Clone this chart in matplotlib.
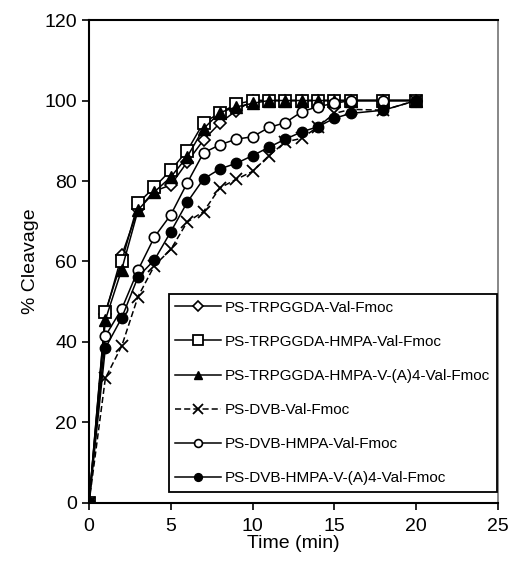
import numpy as np
import matplotlib
matplotlib.use('Agg')
import matplotlib.pyplot as plt

plt.rcParams['font.family'] = ['Liberation Sans', 'DejaVu Sans']

# Time points (min)
t = [0, 1, 2, 3, 4, 5, 6, 7, 8, 9, 10, 11, 12, 13, 14, 15, 16, 18, 20]

# % cleavage for each resin
trp_val      = [0, 47, 61.5, 73, 77.5, 79, 84.7, 90.2, 94.4, 97.5, 100, 100, 100, 100, 100, 100, 100, 100, 100]
trp_hmpa     = [0, 47.5, 60, 74.5, 78.5, 82.7, 87.5, 94.5, 96.9, 99.1, 100, 100, 100, 100, 100, 100, 100, 100, 100]
trp_hmpa_a4  = [0, 45.5, 58, 72.8, 77.3, 81, 86, 93, 97, 98.4, 99.3, 100, 100, 100, 100, 100, 100, 100, 100]
dvb_val      = [0, 31, 39, 51.3, 59, 63, 69.8, 72.4, 78.3, 80.4, 82.4, 86.3, 89.7, 90.6, 93.5, 96.8, 97.8, 97.6, 100]
dvb_hmpa     = [0, 41.5, 48.2, 57.9, 66.1, 71.6, 79.5, 87, 89, 90.4, 91, 93.3, 94.5, 97.2, 98.5, 99.3, 100, 100, 100]
dvb_hmpa_a4  = [0, 38.5, 46, 56.2, 60.4, 67.4, 74.7, 80.5, 83, 84.4, 86.3, 88.4, 90.4, 92.2, 93.5, 95.6, 96.8, 97.6, 100]

labels = ['PS-TRPGGDA-Val-Fmoc', 'PS-TRPGGDA-HMPA-Val-Fmoc',
          'PS-TRPGGDA-HMPA-V-(A)4-Val-Fmoc', 'PS-DVB-Val-Fmoc',
          'PS-DVB-HMPA-Val-Fmoc', 'PS-DVB-HMPA-V-(A)4-Val-Fmoc']

fig = plt.figure(figsize=(5.13, 5.64), dpi=100)
ax = fig.add_axes([0.1735, 0.1082, 0.7973, 0.8563])

ax.plot(t, trp_val, '-', color='k', lw=1.1, marker='D', ms=6.5, mfc='white', mec='k', mew=1.2, label=labels[0])
ax.plot(t, trp_hmpa, '-', color='k', lw=1.1, marker='s', ms=9, mfc='white', mec='k', mew=1.3, label=labels[1])
ax.plot(t, trp_hmpa_a4, '-', color='k', lw=1.1, marker='^', ms=8, mfc='k', mec='k', label=labels[2])
ax.plot(t, dvb_val, color='k', lw=1.1, ls=(0, (4, 2)), marker='x', ms=9, mew=1.3, label=labels[3])
ax.plot(t, dvb_hmpa, '-', color='k', lw=1.1, marker='o', ms=7.5, mfc='white', mec='k', mew=1.2, label=labels[4])
ax.plot(t, dvb_hmpa_a4, '-', color='k', lw=1.1, marker='o', ms=7.5, mfc='k', mec='k', label=labels[5])

ax.set_xlim(0, 25)
ax.set_ylim(0, 120)
ax.set_xticks(range(0, 26, 5))
ax.set_yticks(range(0, 121, 20))
ax.tick_params(direction='out', length=5, width=1.2, labelsize=14)
ax.tick_params(axis='x', pad=6)
for s in ['left', 'bottom', 'top']:
    ax.spines[s].set_linewidth(1.5)
ax.spines['right'].set_color('0.45')
ax.spines['right'].set_linewidth(1.2)

ax.set_xlabel('Time (min)', fontsize=14, labelpad=0)
ax.set_ylabel('% Cleavage', fontsize=14, labelpad=4)

leg = ax.legend(loc='lower right', bbox_to_anchor=(0.998, 0.022), fontsize=11,
                frameon=True, fancybox=False, edgecolor='k', framealpha=1,
                handlelength=3.0, handletextpad=0.25, labelspacing=1.32,
                markerscale=0.75, borderpad=0.45, borderaxespad=0)
leg.get_frame().set_linewidth(1.3)

plt.savefig('out.png', dpi=100)
